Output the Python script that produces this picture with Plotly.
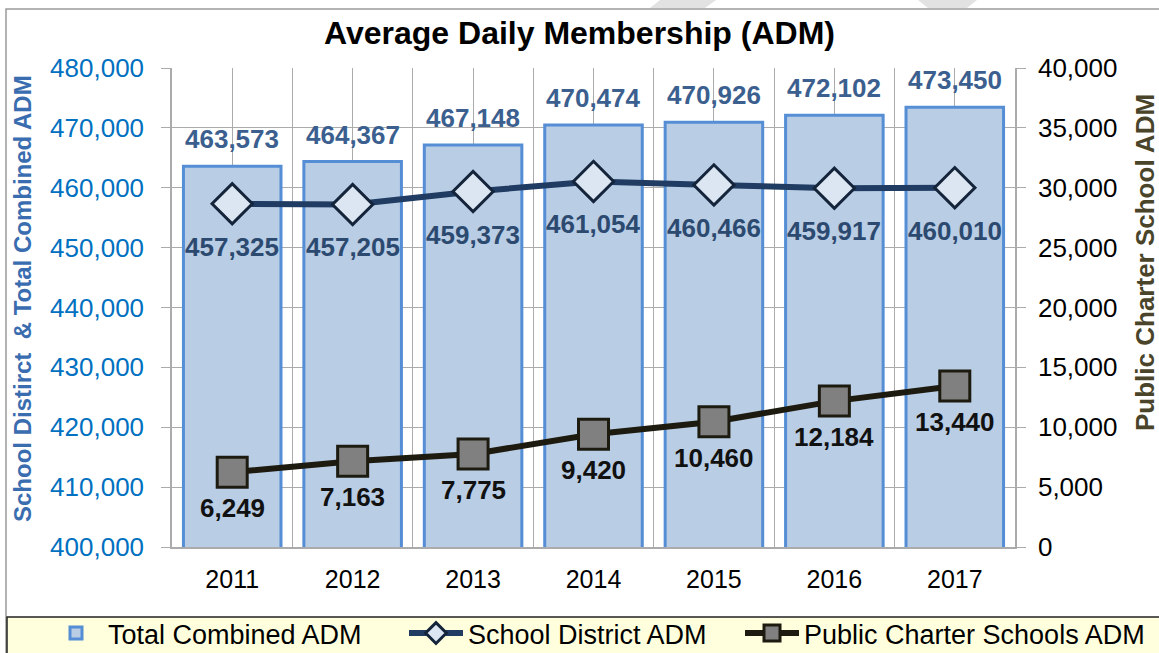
import plotly.graph_objects as go

# Average Daily Membership by school year
years = [2011, 2012, 2013, 2014, 2015, 2016, 2017]
total_combined = [463573, 464367, 467148, 470474, 470926, 472102, 473450]
school_district = [457325, 457205, 459373, 461054, 460466, 459917, 460010]
public_charter = [6249, 7163, 7775, 9420, 10460, 12184, 13440]
year_labels = [str(y) for y in years]

W, H = 1159, 653
ML, MR, MT, MB = 172, 144, 68, 106
PW, PH = W - ML - MR, H - MT - MB

FONT = "Liberation Sans, Arial, sans-serif"
GRID = "#ABABAB"


def px_x(px):
    """Horizontal pixel position -> paper fraction."""
    return (px - ML) / PW


def px_y(py):
    """Vertical pixel position (from top) -> paper fraction."""
    return (H - MB - py) / PH


fig = go.Figure()

fig.add_trace(go.Bar(
    x=years, y=total_combined, name="Total Combined ADM",
    width=0.81,
    marker=dict(color="#B9CDE5", line=dict(color="#558ED5", width=3)),
    yaxis="y", legend="legend",
))
fig.add_trace(go.Scatter(
    x=years, y=school_district, name="School District ADM",
    mode="lines+markers",
    line=dict(color="#203C62", width=6),
    marker=dict(symbol="diamond", size=31, color="#DCE6F2",
                line=dict(color="#14243A", width=3)),
    yaxis="y", legend="legend2",
))
fig.add_trace(go.Scatter(
    x=years, y=public_charter, name="Public Charter Schools ADM",
    mode="lines+markers",
    line=dict(color="#1D1B10", width=6),
    marker=dict(symbol="square", size=30, color="#808080",
                line=dict(color="#1D1B10", width=3)),
    yaxis="y2", legend="legend3",
))

annotations = []
for yr, v in zip(years, total_combined):
    annotations.append(dict(x=yr, y=v, xref="x", yref="y", text=f"{v:,}",
                            showarrow=False, yshift=27,
                            font=dict(family=FONT, size=26, color="#3B5F8F", weight="bold")))
for yr, v in zip(years, school_district):
    annotations.append(dict(x=yr, y=v, xref="x", yref="y", text=f"{v:,}",
                            showarrow=False, yshift=-43,
                            font=dict(family=FONT, size=26, color="#2C4A70", weight="bold")))
for yr, v in zip(years, public_charter):
    annotations.append(dict(x=yr, y=v, xref="x", yref="y2", text=f"{v:,}",
                            showarrow=False, yshift=-36,
                            font=dict(family=FONT, size=26, color="#111111", weight="bold")))

# axis titles
annotations.append(dict(x=px_x(22), y=px_y(299), xref="paper", yref="paper",
                        text="School Distirct \u00a0& Total Combined ADM", textangle=-90,
                        showarrow=False, xanchor="center", yanchor="middle",
                        font=dict(family=FONT, size=24, color="#3A6DB0", weight="bold")))
annotations.append(dict(x=px_x(1145), y=px_y(263), xref="paper", yref="paper",
                        text="Public Charter School ADM", textangle=-90,
                        showarrow=False, xanchor="center", yanchor="middle",
                        font=dict(family=FONT, size=26, color="#4A452A", weight="bold")))

shapes = [
    # outer chart frame
    dict(type="rect", xref="paper", yref="paper", layer="below",
         x0=px_x(6), x1=px_x(1200), y0=px_y(9), y1=px_y(720),
         line=dict(color="#9A9A9A", width=1.5), fillcolor="rgba(0,0,0,0)"),
    # legend panel
    dict(type="rect", xref="paper", yref="paper", layer="below",
         x0=px_x(7), x1=px_x(1200), y0=px_y(617), y1=px_y(720),
         line=dict(color="#222222", width=1.5), fillcolor="#FFFFDD"),
    # faint background marks above the frame
    dict(type="path", xref="paper", yref="paper", layer="below",
         path=f"M{px_x(660)},{px_y(0)} L{px_x(716)},{px_y(0)} L{px_x(705)},{px_y(8)} L{px_x(650)},{px_y(8)} Z",
         line=dict(width=0), fillcolor="#E2E2E2"),
    dict(type="path", xref="paper", yref="paper", layer="below",
         path=f"M{px_x(918)},{px_y(0)} L{px_x(977)},{px_y(0)} L{px_x(967)},{px_y(8)} L{px_x(928)},{px_y(8)} Z",
         line=dict(width=0), fillcolor="#E2E2E2"),
]


def legend_at(left_px):
    """One single-entry legend inside the bottom panel."""
    return dict(orientation="h", xref="container", yref="container",
                x=left_px / W, y=1 - 609 / H, xanchor="left", yanchor="top",
                bgcolor="rgba(0,0,0,0)", borderwidth=0,
                font=dict(family=FONT, size=27, color="black"),
                itemwidth=54, itemclick=False, itemdoubleclick=False)


fig.update_layout(
    width=W, height=H,
    margin=dict(l=ML, r=MR, t=MT, b=MB, autoexpand=False),
    paper_bgcolor="white", plot_bgcolor="white",
    font=dict(family=FONT, color="black"),
    title=dict(text="<b>Average Daily Membership (ADM)</b>", x=579.5 / W, xref="container",
               xanchor="center", y=1 - 33 / H, yref="container", yanchor="middle",
               font=dict(family=FONT, size=32, color="black")),
    showlegend=True,
    legend=legend_at(44),
    legend2=legend_at(404),
    legend3=legend_at(740),
    xaxis=dict(
        range=[2010.5, 2017.5], tickmode="array", tickvals=years, ticktext=year_labels,
        showgrid=True, gridcolor=GRID, gridwidth=1,
        minor=dict(tickmode="linear", tick0=2010.5, dtick=1, showgrid=True,
                   gridcolor=GRID, gridwidth=1),
        showline=True, linecolor=GRID, linewidth=1.5, mirror=False,
        ticks="", ticklabelstandoff=9,
        tickfont=dict(family=FONT, size=25, color="black"),
        zeroline=False, fixedrange=True,
    ),
    yaxis=dict(
        range=[400000, 480000], dtick=10000, tickformat=",",
        showgrid=True, gridcolor=GRID, gridwidth=1,
        showline=True, linecolor=GRID, linewidth=1.5,
        ticks="outside", ticklen=9, tickcolor=GRID, ticklabelstandoff=12,
        tickfont=dict(family=FONT, size=26, color="#0070C0"),
        zeroline=False, fixedrange=True,
    ),
    yaxis2=dict(
        range=[0, 40000], dtick=5000, tickformat=",",
        overlaying="y", side="right", showgrid=False,
        showline=True, linecolor=GRID, linewidth=1.5,
        ticks="outside", ticklen=9, tickcolor=GRID, ticklabelstandoff=7,
        tickfont=dict(family=FONT, size=26, color="black"),
        zeroline=False, fixedrange=True,
    ),
    annotations=annotations,
    shapes=shapes,
    hovermode=False,
)

fig.write_html("out.html", config={"displayModeBar": False})
